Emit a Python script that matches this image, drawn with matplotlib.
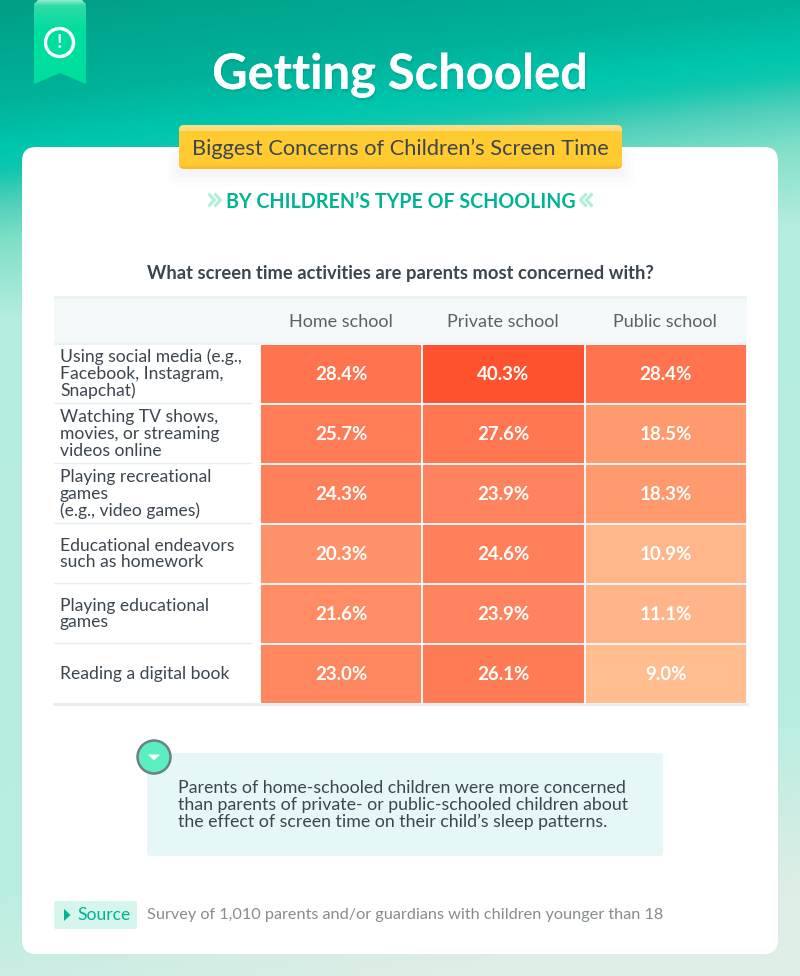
# -*- coding: utf-8 -*-
import numpy as np
import matplotlib; matplotlib.use("Agg")
import matplotlib.pyplot as plt
import matplotlib.patheffects as pe
from matplotlib.colors import LinearSegmentedColormap, Normalize
from matplotlib.patches import FancyBboxPatch, Polygon, Circle, Rectangle

schools = ["Home school", "Private school", "Public school"]
activities = ["Using social media (e.g.,\nFacebook, Instagram,\nSnapchat)",
              "Watching TV shows,\nmovies, or streaming\nvideos online",
              "Playing recreational\ngames\n(e.g., video games)",
              "Educational endeavors\nsuch as homework",
              "Playing educational\ngames",
              "Reading a digital book"]
home = [28.4, 25.7, 24.3, 20.3, 21.6, 23.0]
private = [40.3, 27.6, 23.9, 24.6, 23.9, 26.1]
public = [28.4, 18.5, 18.3, 10.9, 11.1, 9.0]

plt.rcParams["font.family"] = ["Lato", "DejaVu Sans"]
DARK = "#3c4650"
GREEN = "#00b493"
W, H = 800, 976

fig = plt.figure(figsize=(W/100, H/100), dpi=100)

# background gradient, slanted
bg = fig.add_axes([0, 0, 1, 1], zorder=0)
yy, xx = np.mgrid[0:H, 0:W]
d = yy + 0.12*xx
stops_d = [0, 100, 150, 170, 200, 240, 320, 1100]
c_top = np.array([[0, 158, 133], [0, 178, 154], [0, 198, 174], [16, 198, 174],
                  [76, 207, 186], [128, 223, 200], [181, 237, 224], [186, 237, 226]], float)
img = np.stack([np.interp(d, stops_d, c_top[:, i]) for i in range(3)], axis=-1)
# greyer towards lower right corner
t = np.clip((xx/W + (yy-800)/176 - 0.5), 0, 1)[..., None]
img = img*(1-t) + np.array([222, 238, 230])*t
bg.imshow(img.astype(np.uint8), aspect="auto", extent=(0, W, H, 0))
bg.set_axis_off()

# everything else drawn in pixel coordinates
ax = fig.add_axes([0, 0, 1, 1], zorder=1)
ax.set_xlim(0, W); ax.set_ylim(H, 0); ax.set_axis_off()

# white card
ax.add_patch(FancyBboxPatch((22, 147), 756, 807, boxstyle="round,pad=0,rounding_size=14",
                            fc="white", ec="none", zorder=1))

# ribbon
rib_cmap = LinearSegmentedColormap.from_list("rb", [(0, "#8eeacb"), (0.06, "#2edba8"), (0.35, "#00de9e"), (1, "#00de9e")])
ribbon = ax.imshow(np.linspace(0, 1, 84)[:, None], extent=(34, 86, 84, 0), aspect="auto", zorder=2, cmap=rib_cmap)
rib_poly = Polygon([(38, 0), (82, 0), (86, 4), (86, 84), (60, 73), (34, 84), (34, 4)], closed=True, fc="none", ec="none",
                   transform=ax.transData, zorder=2)
ax.add_patch(rib_poly)
ribbon.set_clip_path(rib_poly)
ax.set_xlim(0, W); ax.set_ylim(H, 0)
ax.add_patch(Circle((59.5, 42.5), 14, fc="none", ec="white", lw=2.4, zorder=3))
ax.text(59.5, 42.5, "!", color="white", fontsize=14, fontweight="bold", ha="center", va="center", zorder=3)

# title
ax.text(400, 89, "Getting Schooled", color="white", fontsize=35.2, fontweight="bold", ha="center", va="baseline", zorder=3,
        path_effects=[pe.withSimplePatchShadow(offset=(1, -2), shadow_rgbFace="#008f78", alpha=0.3), pe.Normal()])

# yellow banner with a soft shadow on the card
for grow, a in [(12, 0.08), (8, 0.14), (4, 0.2)]:
    ax.add_patch(FancyBboxPatch((179-grow, 150), 443+2*grow, 24+grow, boxstyle="round,pad=0,rounding_size=8",
                                fc="#e6eef6", ec="none", alpha=a, zorder=2))
ax.add_patch(FancyBboxPatch((179, 125), 443, 44, boxstyle="round,pad=0,rounding_size=5", fc="#ffb92e", ec="none", zorder=3))
ax.add_patch(FancyBboxPatch((179, 125), 443, 25, boxstyle="round,pad=0,rounding_size=5", fc="#ffde7e", ec="none", zorder=3))
ax.add_patch(Rectangle((179, 131), 443, 35, fc="#ffcb30", ec="none", zorder=3))
ax.text(400.5, 149, "Biggest Concerns of Children’s Screen Time", color=DARK, fontsize=15.7, ha="center", va="center", zorder=4)

# subtitle
ax.text(400.5, 201.5, "BY CHILDREN’S TYPE OF SCHOOLING", color=GREEN, fontsize=14.1, fontweight="bold",
        ha="center", va="center", zorder=3)
for x0, s in [(208.5, 1), (592.5, -1)]:
    for off in (0, 6):
        ax.plot([x0 + s*off, x0 + s*(off+6), x0 + s*off], [193.5, 200, 206.5], color="#aef0dc", lw=2.2, zorder=3,
                solid_capstyle="butt")

# question
ax.text(400, 274, "What screen time activities are parents most concerned with?", color=DARK, fontsize=13.2,
        fontweight="bold", ha="center", va="center", zorder=3)

# table header
ax.add_patch(Rectangle((54, 296), 693, 49, fc="#f4f9fa", ec="none", zorder=2))
ax.add_patch(Rectangle((54, 296), 693, 3, fc="#eef2f4", ec="none", zorder=2))
ax.add_patch(Rectangle((54, 342), 693, 3, fc="#eef2f4", ec="none", zorder=2))
for name, x in zip(schools, [341, 503, 665]):
    ax.text(x, 322, name, color="#5a6268", fontsize=13, ha="center", va="center", zorder=3)

# row labels and rules
row_tops = [345, 405, 465, 525, 585, 645]
for label, y0 in zip(activities, row_tops):
    ax.text(60, y0+29, label, color=DARK, fontsize=12.6, ha="left", va="center", linespacing=1.05, zorder=3)
    ax.plot([54, 251], [y0+58, y0+58], color="#e8eced", lw=1.0, zorder=2)
ax.plot([54, 747], [703.5, 703.5], color="#e8eced", lw=2, zorder=2)

# heat cells
vals = np.array([home, private, public]).T
cmap = LinearSegmentedColormap.from_list("heat", [(0, "#ffbd90"), (0.30, "#ff9a6f"), (0.49, "#ff815c"),
                                                  (0.62, "#ff734e"), (1, "#ff5330")])
hx = fig.add_axes([260/W, 1-704/H, 487/W, 360/H], zorder=2)
hx.pcolormesh(vals, cmap=cmap, norm=Normalize(9, 40.3), edgecolors="#f3f5f6", linewidth=1.4)
hx.set_ylim(6, 0); hx.set_xlim(0, 3); hx.set_axis_off()
for i in range(vals.shape[0]):
    for j in range(vals.shape[1]):
        hx.text(j+0.5, i+0.515, f"{vals[i, j]:.1f}%", color="white", fontsize=13.5, fontweight="bold",
                ha="center", va="center")

# callout
ax.add_patch(FancyBboxPatch((147, 753), 516, 103, boxstyle="round,pad=0,rounding_size=4", fc="#e6f7f7", ec="none", zorder=2))
ax.add_patch(Circle((154, 757), 16.5, fc="#5beec0", ec="#6f7f88", lw=1.8, zorder=3))
ax.add_patch(Polygon([(148, 754.5), (160, 754.5), (154, 760.5)], closed=True, fc="white", ec="none", zorder=4))
ax.text(178, 805, "Parents of home-schooled children were more concerned\nthan parents of private- or public-schooled children about\n"
        "the effect of screen time on their child’s sleep patterns.", color=DARK, fontsize=12.8, ha="left", va="center",
        linespacing=1.1, zorder=3)

# source
ax.add_patch(FancyBboxPatch((54, 901), 83, 28, boxstyle="round,pad=0,rounding_size=2", fc="#d6f5ec", ec="none", zorder=2))
ax.add_patch(Polygon([(64, 909), (64, 921), (70.5, 915)], closed=True, fc=GREEN, ec="none", zorder=3))
ax.text(77, 914.5, "Source", color=GREEN, fontsize=12.6, ha="left", va="center", zorder=3)
ax.text(147, 914.5, "Survey of 1,010 parents and/or guardians with children younger than 18", color="#868c90",
        fontsize=11.7, ha="left", va="center", zorder=3)

fig.savefig("out.png", dpi=100)
